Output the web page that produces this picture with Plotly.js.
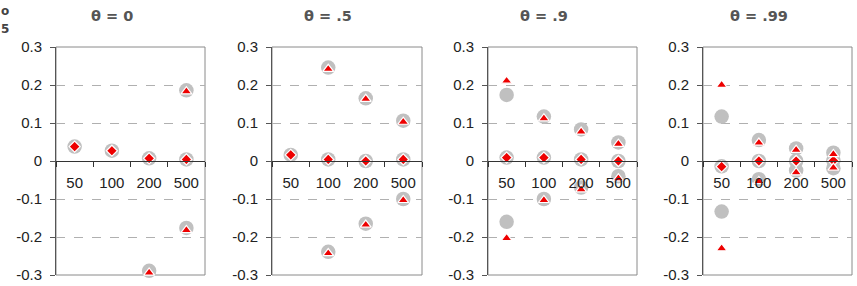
<!DOCTYPE html>
<html>
<head>
<meta charset="utf-8">
<script src="https://cdn.plot.ly/plotly-3.0.1.min.js"></script>
<style>html,body{margin:0;padding:0;background:#fff;}#chart{width:857px;height:286px;}</style>
</head>
<body>
<div id="chart"></div>
<script>
// ---- data ----
const categories = ["50", "100", "200", "500"];
const panelTitles = ["θ = 0", "θ = .5", "θ = .9", "θ = .99"];
const yTickVals = [-0.3, -0.2, -0.1, 0, 0.1, 0.2, 0.3];
const yTickText = ["-0.3", "-0.2", "-0.1", "0", "0.1", "0.2", "0.3"];

// gray circles (empirical)
const grayMid0 = [0.038, 0.027, 0.007, 0.004];
const grayUp0  = [null, null, null, 0.186];
const grayLo0  = [null, null, -0.289, -0.176];
// red markers (theoretical)
const redMid0  = [0.038, 0.027, 0.007, 0.004];
const redUp0   = [null, null, null, 0.183];
const redLo0   = [null, null, -0.294, -0.182];

const grayMid1 = [0.016, 0.004, 0.000, 0.004];
const grayUp1  = [null, 0.246, 0.165, 0.106];
const grayLo1  = [null, -0.239, -0.165, -0.100];
const redMid1  = [0.016, 0.004, 0.000, 0.004];
const redUp1   = [null, 0.242, 0.163, 0.103];
const redLo1   = [null, -0.243, -0.168, -0.103];

const grayMid2 = [0.009, 0.009, 0.004, 0.000];
const grayUp2  = [0.174, 0.117, 0.083, 0.049];
const grayLo2  = [-0.160, -0.100, -0.070, -0.040];
const redMid2  = [0.009, 0.009, 0.004, 0.000];
const redUp2   = [0.211, 0.112, 0.077, 0.045];
const redLo2   = [-0.203, -0.103, -0.075, -0.046];

const grayMid3 = [-0.014, 0.000, 0.000, 0.001];
const grayUp3  = [0.117, 0.055, 0.033, 0.022];
const grayLo3  = [-0.133, -0.048, -0.025, -0.019];
const redMid3  = [-0.015, 0.000, 0.000, 0.001];
const redUp3   = [0.200, 0.048, 0.029, 0.018];
const redLo3   = [-0.230, -0.053, -0.030, -0.018];

const panels = [
  {gray: [grayMid0, grayUp0, grayLo0], mid: redMid0, up: redUp0, lo: redLo0},
  {gray: [grayMid1, grayUp1, grayLo1], mid: redMid1, up: redUp1, lo: redLo1},
  {gray: [grayMid2, grayUp2, grayLo2], mid: redMid2, up: redUp2, lo: redLo2},
  {gray: [grayMid3, grayUp3, grayLo3], mid: redMid3, up: redUp3, lo: redLo3}
];

// ---- layout geometry ----
const W = 857, H = 286;
const xDomPx = [[56, 205], [272, 422], [488, 637], [703, 852]];
const titleCenterPx = [112, 328, 544, 759];
const yTopPx = 47, yBotPx = 275;
const yDom = [1 - yBotPx / H, 1 - yTopPx / H];
const yMid = (yDom[0] + yDom[1]) / 2;

const traces = [];
const layout = {
  width: W, height: H,
  margin: {l: 0, r: 0, t: 0, b: 0},
  paper_bgcolor: "#fff", plot_bgcolor: "rgba(0,0,0,0)",
  showlegend: false, hovermode: false,
  font: {family: "Liberation Sans, Arial, sans-serif", size: 15, color: "#222"},
  annotations: [], shapes: []
};

panels.forEach((p, i) => {
  const sfx = i === 0 ? "" : String(i + 1);
  const xa = "x" + sfx, ya = "y" + sfx;
  const common = {xaxis: xa, yaxis: ya, mode: "markers", type: "scatter", cliponaxis: false, hoverinfo: "skip"};
  p.gray.forEach(arr => {
    traces.push(Object.assign({}, common, {
      x: categories, y: arr,
      marker: {symbol: "circle", size: 14.5, color: "#c0c0c0", line: {width: 0}}
    }));
  });
  traces.push(Object.assign({}, common, {
    x: categories, y: p.mid,
    marker: {symbol: "diamond", size: 8.5, color: "#ee0000", line: {width: 1.2, color: "#ffffff"}}
  }));
  [p.up, p.lo].forEach(arr => {
    traces.push(Object.assign({}, common, {
      x: categories, y: arr,
      marker: {symbol: "triangle-up", size: 9.5, color: "#ee0000", line: {width: 1.2, color: "#ffffff"}}
    }));
  });

  layout["xaxis" + sfx] = {
    domain: [xDomPx[i][0] / W, xDomPx[i][1] / W],
    type: "category", categoryorder: "array", categoryarray: categories,
    range: [-0.5, 3.5],
    anchor: "free", position: yMid,
    showline: true, linecolor: "#333", linewidth: 1,
    ticks: "outside", tickson: "boundaries", ticklen: 5, tickcolor: "#333",
    ticklabelstandoff: 8,
    showgrid: false, zeroline: false, fixedrange: true,
    tickfont: {size: 15, color: "#222"}
  };
  layout["yaxis" + sfx] = {
    domain: yDom, anchor: xa,
    range: [-0.3, 0.3],
    tickmode: "array", tickvals: yTickVals, ticktext: yTickText,
    showline: true, linecolor: "#555", linewidth: 1,
    ticks: "outside", ticklen: 5, tickcolor: "#555",
    ticklabelstandoff: 5,
    showgrid: true, gridcolor: "#b0b0b0", griddash: "dash", gridwidth: 1,
    zeroline: false, fixedrange: true,
    tickfont: {size: 15, color: "#222"}
  };
  layout.shapes.push({
    type: "rect", xref: xa + " domain", yref: ya + " domain",
    x0: 0, x1: 1, y0: 0, y1: 1, layer: "below",
    line: {color: "#8a8a8a", width: 1}, fillcolor: "rgba(0,0,0,0)"
  });
  layout.annotations.push({
    text: "<b>" + panelTitles[i] + "</b>", xref: "paper", yref: "paper",
    x: titleCenterPx[i] / W, y: 1 - 16 / H, xanchor: "center", yanchor: "middle",
    showarrow: false, font: {family: "DejaVu Sans, sans-serif", size: 14.5, color: "#555"}
  });
});

// remnants of an outer label at the left edge
layout.annotations.push({
  text: "<b>o</b>", xref: "paper", yref: "paper", x: 0, y: 1 - 11 / H,
  xanchor: "left", yanchor: "middle", showarrow: false, borderpad: 0,
  font: {family: "DejaVu Sans, sans-serif", size: 12, color: "#444"}
});
layout.annotations.push({
  text: "<b>5</b>", xref: "paper", yref: "paper", x: 0, y: 1 - 29 / H,
  xanchor: "left", yanchor: "middle", showarrow: false, borderpad: 0,
  font: {family: "DejaVu Sans, sans-serif", size: 12, color: "#444"}
});

Plotly.newPlot("chart", traces, layout, {displayModeBar: false, staticPlot: true});
</script>
</body>
</html>
